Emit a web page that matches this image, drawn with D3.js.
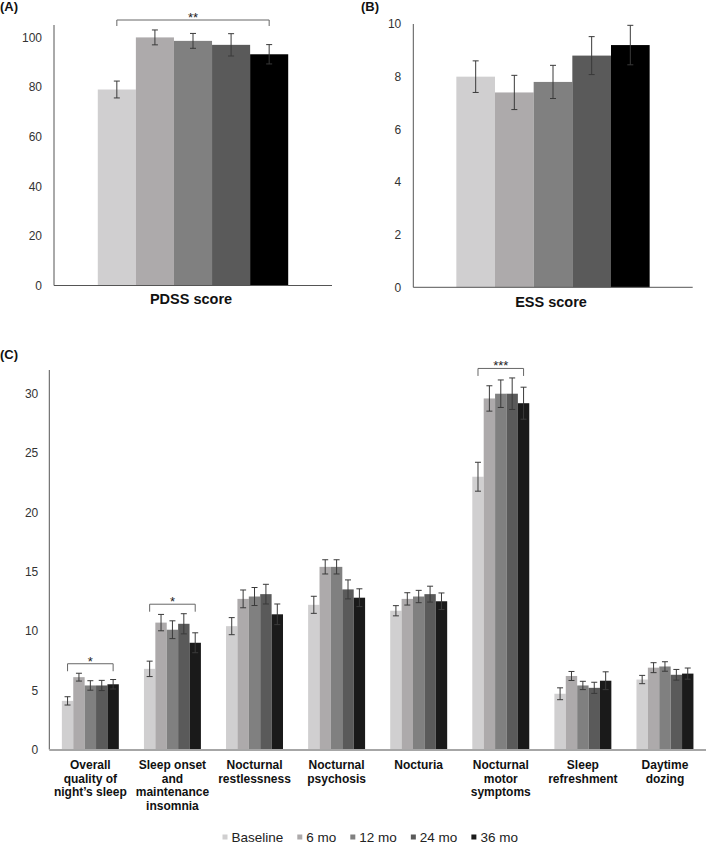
<!DOCTYPE html>
<html>
<head>
<meta charset="utf-8">
<script src="https://cdn.jsdelivr.net/npm/d3@7"></script>
<style>
  html, body { margin: 0; padding: 0; background: #fff; }
  svg { display: block; font-family: "Liberation Sans", Arial, sans-serif; }
</style>
</head>
<body>
<svg id="chart" width="707" height="846"></svg>
<script>
// ---------------- DATA ----------------
const seriesNames = ["Baseline", "6 mo", "12 mo", "24 mo", "36 mo"];

// Panel A: PDSS total score
const pdssCategory = ["PDSS score"];
const pdssMean = [79.0, 100.0, 98.6, 97.0, 93.2];
const pdssErr  = [3.4, 3.0, 3.0, 4.5, 3.9];
const pdssTicks = [0, 20, 40, 60, 80, 100];
const pdssSig = "**";

// Panel B: ESS score
const essCategory = ["ESS score"];
const essMean = [8.0, 7.4, 7.8, 8.8, 9.2];
const essErr  = [0.6, 0.65, 0.63, 0.72, 0.75];
const essTicks = [0, 2, 4, 6, 8, 10];

// Panel C: PDSS domains
const domainLabels = [
  ["Overall", "quality of", "night\u2019s sleep"],
  ["Sleep onset", "and", "maintenance", "insomnia"],
  ["Nocturnal", "restlessness"],
  ["Nocturnal", "psychosis"],
  ["Nocturia"],
  ["Nocturnal", "motor", "symptoms"],
  ["Sleep", "refreshment"],
  ["Daytime", "dozing"]
];
const domainBaseline = [4.1, 6.8, 10.4, 12.2, 11.7, 23.0, 4.7, 5.9];
const domain6mo      = [6.1, 10.7, 12.7, 15.4, 12.7, 29.6, 6.2, 6.9];
const domain12mo     = [5.4, 10.1, 12.9, 15.4, 12.9, 30.0, 5.4, 7.0];
const domain24mo     = [5.4, 10.6, 13.1, 13.5, 13.1, 30.0, 5.2, 6.3];
const domain36mo     = [5.5, 9.0, 11.4, 12.8, 12.5, 29.2, 5.8, 6.4];
const errBaseline = [0.35, 0.65, 0.72, 0.72, 0.43, 1.22, 0.50, 0.35];
const err6mo      = [0.33, 0.69, 0.75, 0.60, 0.52, 1.07, 0.38, 0.42];
const err12mo     = [0.40, 0.75, 0.76, 0.60, 0.52, 1.16, 0.35, 0.40];
const err24mo     = [0.43, 0.85, 0.83, 0.80, 0.67, 1.33, 0.47, 0.45];
const err36mo     = [0.40, 0.84, 0.87, 0.75, 0.70, 1.35, 0.75, 0.47];
const domainTicks = [0, 5, 10, 15, 20, 25, 30];
const domainSigIndex = [0, 1, 5];
const domainSigText  = ["*", "*", "***"];

// ---------------- STYLE ----------------
const colorsAB = ["#d0cfd0", "#adaaab", "#808080", "#5a5a5a", "#000000"];
const colorsC  = ["#d0cfd0", "#adaaab", "#808080", "#5a5a5a", "#1a1a1a"];
const errColor = "#3a3a3a";
const axisColor = "#555";
const tickFont = "12px";

const svg = d3.select("#chart");

// ---------- helper: single-category panel (A, B) ----------
function singlePanel(opts) {
  const g = svg.append("g");
  const y = d3.scaleLinear().domain(opts.yDomain).range([opts.y0, opts.y1]);
  const x0 = d3.scaleBand().domain(opts.category).range([opts.x0, opts.x1])
    .paddingInner(0).paddingOuter(opts.pad);
  const x1 = d3.scaleBand().domain(seriesNames).range([0, x0.bandwidth()]).padding(0);
  const data = seriesNames.map((s, i) => ({ s, v: opts.mean[i], e: opts.err[i], c: opts.category[0] }));

  const ya = d3.axisLeft(y).tickValues(opts.ticks).tickSize(0).tickPadding(12);
  g.append("g").attr("transform", `translate(${opts.x0},0)`).call(ya)
    .call(a => a.select(".domain").remove())
    .call(a => a.selectAll("text").attr("font-size", tickFont).attr("fill", "#333")
      .attr("font-family", "Liberation Sans, Arial, sans-serif"));

  g.selectAll("rect.bar").data(data).enter().append("rect")
    .attr("x", d => x0(d.c) + x1(d.s))
    .attr("y", d => y(d.v))
    .attr("width", x1.bandwidth())
    .attr("height", d => y(0) - y(d.v))
    .attr("fill", (d, i) => colorsAB[i]);

  const eb = g.selectAll("g.err").data(data).enter().append("g")
    .attr("transform", d => `translate(${x0(d.c) + x1(d.s) + x1.bandwidth() / 2},0)`);
  eb.append("line").attr("y1", d => y(d.v + d.e)).attr("y2", d => y(d.v - d.e))
    .attr("stroke", errColor).attr("stroke-width", 1);
  eb.append("line").attr("x1", -3).attr("x2", 3).attr("y1", d => y(d.v + d.e)).attr("y2", d => y(d.v + d.e))
    .attr("stroke", errColor).attr("stroke-width", 1);
  eb.append("line").attr("x1", -3).attr("x2", 3).attr("y1", d => y(d.v - d.e)).attr("y2", d => y(d.v - d.e))
    .attr("stroke", errColor).attr("stroke-width", 1);

  g.append("line").attr("x1", opts.x0).attr("x2", opts.x0).attr("y1", y.range()[1]).attr("y2", y(0))
    .attr("stroke", axisColor).attr("stroke-width", 1);
  g.append("line").attr("x1", opts.x0).attr("x2", opts.x1).attr("y1", y(0)).attr("y2", y(0))
    .attr("stroke", axisColor).attr("stroke-width", 1);

  g.append("text").attr("x", x0(opts.category[0]) + x0.bandwidth() / 2 - 2).attr("y", opts.labelY)
    .attr("text-anchor", "middle").attr("font-weight", "bold").attr("font-size", "14.5px")
    .attr("fill", "#111").text(opts.category[0]);

  g.append("text").attr("x", opts.tagX).attr("y", 11).attr("font-weight", "bold")
    .attr("font-size", "13px").attr("fill", "#111").text(opts.tag);

  if (opts.sig) {
    const xa = x0(opts.category[0]) + x1(seriesNames[0]) + x1.bandwidth() / 2;
    const xb = x0(opts.category[0]) + x1(seriesNames[4]) + x1.bandwidth() / 2;
    const top = 20, leg = 26;
    g.append("path").attr("d", `M${xa},${leg}V${top}H${xb}V${leg}`)
      .attr("fill", "none").attr("stroke", "#666").attr("stroke-width", 1);
    g.append("text").attr("x", (xa + xb) / 2).attr("y", top + 2).attr("text-anchor", "middle")
      .attr("font-size", "13px").attr("fill", "#222").text(opts.sig);
  }
}

singlePanel({
  category: pdssCategory, mean: pdssMean, err: pdssErr, ticks: pdssTicks,
  yDomain: [0, 105], y0: 285.5, y1: 25, x0: 54, x1: 332, pad: 0.23,
  labelY: 304, tag: "(A)", tagX: 0, sig: pdssSig
});
singlePanel({
  category: essCategory, mean: essMean, err: essErr, ticks: essTicks,
  yDomain: [0, 10], y0: 287.3, y1: 24, x0: 413.3, x1: 692.7, pad: 0.2227,
  labelY: 307, tag: "(B)", tagX: 361, sig: null
});

// ---------------- Panel C ----------------
(function panelC() {
  const g = svg.append("g");
  const means = [domainBaseline, domain6mo, domain12mo, domain24mo, domain36mo];
  const errs = [errBaseline, err6mo, err12mo, err24mo, err36mo];
  const X0 = 49.3, X1 = 706, Y0 = 749.5, Y1 = 370;
  const y = d3.scaleLinear().domain([0, 32]).range([Y0, Y1]);
  const idx = domainLabels.map((d, i) => i);
  const x0 = d3.scaleBand().domain(idx).range([X0, X1]).paddingInner(0.306).paddingOuter(0.153);
  const x1 = d3.scaleBand().domain(seriesNames).range([0, x0.bandwidth()]).padding(0);

  const ya = d3.axisLeft(y).tickValues(domainTicks).tickSize(0).tickPadding(11);
  g.append("g").attr("transform", `translate(${X0},0)`).call(ya)
    .call(a => a.select(".domain").remove())
    .call(a => a.selectAll("text").attr("font-size", tickFont).attr("fill", "#333")
      .attr("font-family", "Liberation Sans, Arial, sans-serif"));

  const data = [];
  idx.forEach(di => seriesNames.forEach((s, si) => data.push({ di, s, si, v: means[si][di], e: errs[si][di] })));

  g.selectAll("rect.bar").data(data).enter().append("rect")
    .attr("x", d => x0(d.di) + x1(d.s))
    .attr("y", d => y(d.v))
    .attr("width", x1.bandwidth())
    .attr("height", d => y(0) - y(d.v))
    .attr("fill", d => colorsC[d.si]);

  const eb = g.selectAll("g.err").data(data).enter().append("g")
    .attr("transform", d => `translate(${x0(d.di) + x1(d.s) + x1.bandwidth() / 2},0)`);
  eb.append("line").attr("y1", d => y(d.v + d.e)).attr("y2", d => y(d.v - d.e))
    .attr("stroke", errColor).attr("stroke-width", 1);
  eb.append("line").attr("x1", -3).attr("x2", 3).attr("y1", d => y(d.v + d.e)).attr("y2", d => y(d.v + d.e))
    .attr("stroke", errColor).attr("stroke-width", 1);
  eb.append("line").attr("x1", -3).attr("x2", 3).attr("y1", d => y(d.v - d.e)).attr("y2", d => y(d.v - d.e))
    .attr("stroke", errColor).attr("stroke-width", 1);

  g.append("line").attr("x1", X0).attr("x2", X0).attr("y1", Y1).attr("y2", Y0)
    .attr("stroke", axisColor).attr("stroke-width", 1);
  g.append("line").attr("x1", X0).attr("x2", X1).attr("y1", Y0 + 0.5).attr("y2", Y0 + 0.5)
    .attr("stroke", "#a6a6a6").attr("stroke-width", 2);

  const lab = g.selectAll("text.cat").data(idx).enter().append("text")
    .attr("text-anchor", "middle").attr("font-weight", "bold").attr("font-size", "12px")
    .attr("fill", "#111")
    .attr("transform", d => `translate(${x0(d) + x0.bandwidth() / 2},769)`);
  lab.selectAll("tspan").data(d => domainLabels[d]).enter().append("tspan")
    .attr("x", 0).attr("y", (t, i) => i * 13.7).text(t => t);

  domainSigIndex.forEach((di, k) => {
    const maxTop = d3.max(seriesNames.map((s, si) => means[si][di] + errs[si][di]));
    const leg = y(maxTop) - 2;
    const top = leg - 7.5;
    const xa = x0(di) + x1(seriesNames[0]) + x1.bandwidth() / 2;
    const xb = x0(di) + x1(seriesNames[4]) + x1.bandwidth() / 2;
    g.append("path").attr("d", `M${xa},${leg}V${top}H${xb}V${leg}`)
      .attr("fill", "none").attr("stroke", "#666").attr("stroke-width", 1);
    g.append("text").attr("x", (xa + xb) / 2).attr("y", top + 2).attr("text-anchor", "middle")
      .attr("font-size", "13px").attr("fill", "#222").text(domainSigText[k]);
  });

  g.append("text").attr("x", 0).attr("y", 359).attr("font-weight", "bold")
    .attr("font-size", "13px").attr("fill", "#111").text("(C)");

  // legend
  const leg = g.append("g");
  let cx = 222.5;
  seriesNames.forEach((s, i) => {
    leg.append("rect").attr("x", cx).attr("y", 834.5).attr("width", 5).attr("height", 5).attr("fill", colorsC[i]);
    const t = leg.append("text").attr("x", cx + 9).attr("y", 842).attr("font-size", "13.5px")
      .attr("fill", "#222").text(s);
    const w = t.node().getComputedTextLength();
    cx = cx + 9 + w + 14;
  });
})();
</script>
</body>
</html>
